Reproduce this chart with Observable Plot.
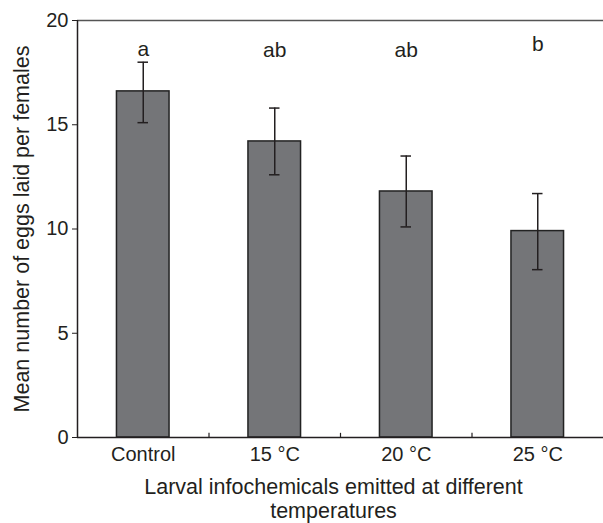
<!DOCTYPE html>
<html>
<head>
<meta charset="utf-8">
<script src="https://cdn.jsdelivr.net/npm/d3@7"></script>
<script src="https://cdn.jsdelivr.net/npm/@observablehq/plot@0.6"></script>
<style>
  html, body { margin: 0; padding: 0; background: #fff; }
</style>
</head>
<body>
<div id="chart"></div>
<script>
const categories = ["Control", "15 °C", "20 °C", "25 °C"];
const means = [16.6, 14.2, 11.8, 9.9];
const errLow = [15.1, 12.6, 10.1, 8.05];
const errHigh = [18.0, 15.8, 13.5, 11.7];
const letters = ["a", "ab", "ab", "b"];
const letterY = [18.3, 18.25, 18.25, 18.55];
const yTicks = [0, 5, 10, 15, 20];
const yLabel = "Mean number of eggs laid per females";
const xLabel = "Larval infochemicals emitted at different\ntemperatures";

const data = categories.map((c, i) => ({
  cat: c, i, mean: means[i], lo: errLow[i], hi: errHigh[i], letter: letters[i], ly: letterY[i]
}));

const ink = "#231f20";

const chart = Plot.plot({
  width: 603,
  height: 523,
  marginLeft: 77,
  marginRight: 0,
  marginTop: 20,
  marginBottom: 86,
  style: { fontFamily: "'Liberation Sans', Arial, sans-serif", fontSize: "20px", color: ink, background: "#fff" },
  x: { domain: [0, categories.length] },
  y: { domain: [0, 20] },
  marks: [
    Plot.rectY(data, { x1: d => d.i + 0.3, x2: d => d.i + 0.7, y1: 0, y2: "mean", fill: "#747578", stroke: "#222", strokeWidth: 1.5 }),
    Plot.ruleX(data, { x: d => d.i + 0.5, y1: "lo", y2: "hi", stroke: ink, strokeWidth: 1.5 }),
    Plot.ruleY(data, { y: "hi", x1: d => d.i + 0.46, x2: d => d.i + 0.54, stroke: ink, strokeWidth: 1.5 }),
    Plot.ruleY(data, { y: "lo", x1: d => d.i + 0.46, x2: d => d.i + 0.54, stroke: ink, strokeWidth: 1.5 }),
    Plot.text(data, { x: d => d.i + 0.5, y: "ly", text: "letter", lineAnchor: "bottom", fontSize: 21, fill: ink }),
    Plot.ruleY([0], { stroke: ink, strokeWidth: 1.5 }),
    Plot.ruleY([20], { stroke: "#555", strokeWidth: 1.5 }),
    Plot.ruleX([0], { stroke: ink, strokeWidth: 1.5 }),
    Plot.ruleX([1, 2, 3], { y1: 0, y2: 0.2, stroke: ink, strokeWidth: 1.2 }),
    Plot.axisY({ ticks: yTicks, tickSize: 5, tickPadding: 4, label: null, fontSize: 20, stroke: ink }),
    Plot.axisX({ ticks: [0.5, 1.5, 2.5, 3.5], tickFormat: d => categories[Math.floor(d)], tickSize: 0, tickPadding: 9, label: null, fontSize: 20 }),
    Plot.text([yLabel], { frameAnchor: "left", textAnchor: "middle", rotate: -90, dx: -55, fontSize: 21.5, fill: ink }),
    Plot.text([xLabel], { frameAnchor: "bottom", lineAnchor: "bottom", dx: -7, dy: 80, fontSize: 21.5, lineHeight: 1.1, fill: ink })
  ]
});

document.getElementById("chart").appendChild(chart);
</script>
</body>
</html>
